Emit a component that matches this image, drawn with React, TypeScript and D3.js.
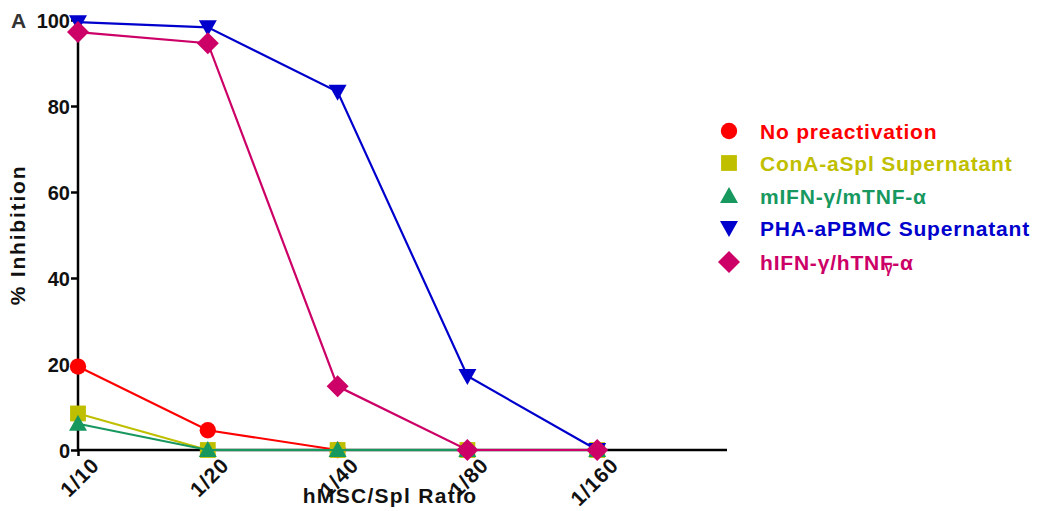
import React from "react";
import * as d3 from "d3";

const ratios = ["1/10", "1/20", "1/40", "1/80", "1/160"];
const yTicks = [0, 20, 40, 60, 80, 100];
const noPre = [19.4, 4.6, 0, 0, 0];
const conA = [8.5, 0, 0, 0, 0];
const mIfn = [6.1, 0, 0, 0, 0];
const pha = [99.5, 98.3, 83.3, 17.2, 0];
const hIfn = [97.2, 94.6, 14.8, 0, 0];

const seriesNames = [
  "No preactivation",
  "ConA-aSpl Supernatant",
  "mIFN-γ/mTNF-α",
  "PHA-aPBMC Supernatant",
  "hIFN-γ/hTNF-α",
];
const seriesColors = ["#ff0000", "#bfbf00", "#17985f", "#0000cc", "#cc0066"];
const seriesShapes = ["circle", "square", "triangle", "down", "diamond"];
const seriesValues = [noPre, conA, mIfn, pha, hIfn];

const font = "Arial, 'Liberation Sans', sans-serif";

function markerPath(shape: string) {
  if (shape === "circle") return d3.symbol(d3.symbolCircle, 210)()!;
  if (shape === "square") return d3.symbol(d3.symbolSquare, 250)()!;
  if (shape === "diamond") return "M0,-11L11,0L0,11L-11,0Z";
  if (shape === "triangle") return "M0,-9L9,7L-9,7Z";
  return "M0,9L9,-7L-9,-7Z";
}

export default function App() {
  const ref = React.useRef<SVGSVGElement>(null);
  const width = 1038;
  const height = 511;

  React.useEffect(() => {
    const svg = d3.select(ref.current);
    svg.selectAll("*").remove();

    const x = d3.scaleLinear().domain([0, 5]).range([78, 727]);
    const y = d3.scaleLinear().domain([0, 100]).range([450, 20]);

    // axes
    const yAxis = svg.append("g").attr("transform", "translate(78,0)")
      .call(d3.axisLeft(y).tickValues(yTicks).tickSize(7).tickFormat(d3.format("d")));
    yAxis.select(".domain").attr("stroke", "#000").attr("stroke-width", 2.5).attr("d", "M0,450V19");
    yAxis.selectAll("line").attr("stroke", "#000").attr("stroke-width", 2.5);
    yAxis.selectAll("text")
      .attr("font-family", font).attr("font-weight", "bold").attr("font-size", 20)
      .attr("fill", "#111").attr("x", -8).attr("dy", "0.35em");

    const xAxis = svg.append("g").attr("transform", "translate(0,450)")
      .call(d3.axisBottom(x).tickValues(d3.range(ratios.length)).tickSize(6)
        .tickFormat((d) => ratios[d as number]));
    xAxis.select(".domain").attr("stroke", "#000").attr("stroke-width", 2.5).attr("d", "M78,0H727");
    xAxis.selectAll("line").attr("stroke", "#000").attr("stroke-width", 2.5);
    xAxis.selectAll("text")
      .attr("font-family", font).attr("font-weight", "bold").attr("font-size", 21)
      .attr("letter-spacing", 1)
      .attr("fill", "#111").attr("text-anchor", "end")
      .attr("x", 4).attr("y", 20).attr("dy", "0.35em")
      .attr("transform", "rotate(-45)");

    // titles
    svg.append("text").attr("x", 390).attr("y", 503).attr("text-anchor", "middle")
      .attr("font-family", font).attr("font-weight", "bold").attr("font-size", 21)
      .attr("letter-spacing", 1.3).attr("fill", "#111").text("hMSC/Spl Ratio");
    svg.append("text").attr("transform", "translate(25,235) rotate(-90)")
      .attr("text-anchor", "middle").attr("font-family", font).attr("font-weight", "bold")
      .attr("font-size", 21).attr("letter-spacing", 1.8).attr("fill", "#111").text("% Inhibition");
    svg.append("text").attr("x", 11).attr("y", 28)
      .attr("font-family", font).attr("font-weight", "bold").attr("font-size", 21)
      .attr("fill", "#333").text("A");

    // series
    const line = d3.line<number>().x((_, i) => x(i)).y((d) => y(d));
    seriesValues.forEach((vals, s) => {
      const g = svg.append("g");
      g.append("path").attr("d", line(vals)).attr("fill", "none")
        .attr("stroke", seriesColors[s]).attr("stroke-width", 2.2);
      g.selectAll("path.m").data(vals).enter().append("path").attr("class", "m")
        .attr("d", markerPath(seriesShapes[s]))
        .attr("transform", (d, i) => `translate(${x(i)},${y(d)})`)
        .attr("fill", seriesColors[s]);
    });

    // legend
    const legendY = [131, 163, 196, 228, 262];
    seriesNames.forEach((name, s) => {
      const g = svg.append("g").attr("transform", `translate(729,${legendY[s]})`);
      g.append("path").attr("d", markerPath(seriesShapes[s])).attr("fill", seriesColors[s]);
      const t = g.append("text").attr("x", 31).attr("dy", "0.36em")
        .attr("font-family", font).attr("font-weight", "bold").attr("font-size", 21)
        .attr("letter-spacing", 0.8).attr("fill", seriesColors[s]);
      if (s === 4) {
        t.append("tspan").text("hIFN-γ/hTNF");
        t.append("tspan").attr("dx", -9).attr("dy", 3).attr("font-size", 14).text("γ");
        t.append("tspan").attr("dy", -3).attr("dx", -1).text("-α");
      } else {
        t.text(name);
      }
    });
  }, []);

  return (
    <svg ref={ref} width={width} height={height}
      style={{ position: "absolute", left: 0, top: 0, background: "#fff" }} />
  );
}
